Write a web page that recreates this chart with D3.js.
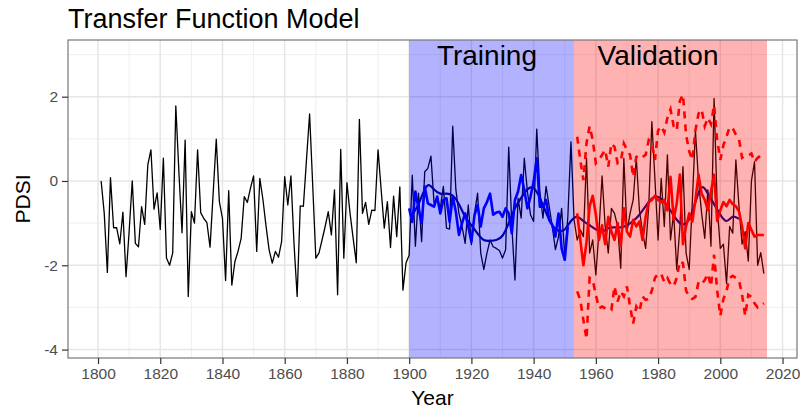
<!DOCTYPE html>
<html>
<head>
<meta charset="utf-8">
<script src="https://cdn.jsdelivr.net/npm/d3@7"></script>
<style>
  body { margin: 0; background: #fff; }
  svg { display: block; font-family: "Liberation Sans", Arial, sans-serif; }
</style>
</head>
<body>
<svg id="chart" width="800" height="410"></svg>
<script>
// Observed PDSI, one value per year starting in 1801
const obsStart = 1801;
const observed = [
  0.0, -0.77, -2.17, 0.08, -1.11, -1.11, -1.49, -0.74, -2.27, -1.2,          // 1801-1810
  0.0, -1.48, -1.56, -0.61, -1.03, 0.38, 0.74, -0.67, -0.28, -1.15,          // 1811-1820
  0.54, -1.83, -2.0, -1.71, 1.78, 0.2, -1.23, 0.97, -2.74, -0.73,            // 1821-1830
  -1.0, 0.74, -0.75, -0.89, -0.99, -1.57, -0.3, 0.99, -0.49, -0.89,          // 1831-1840
  -2.36, -0.23, -2.47, -1.91, -1.67, -1.36, -0.37, -0.51, -0.17, 0.12,       // 1841-1850
  -1.67, 0.06, -0.44, -1.07, -1.64, -1.95, -1.67, -1.81, -1.44, 0.1,         // 1851-1860
  -0.57, 0.12, -1.5, -2.74, -0.59, -0.6, 0.5, 1.59, -0.1, -1.83,             // 1861-1870
  -1.71, -1.4, -1.08, -0.73, -1.28, -0.21, -2.7, 0.75, -1.83, -0.04,         // 1871-1880
  -0.77, -1.36, -1.94, 1.46, -0.77, -0.51, -1.03, -0.69, -0.7, 0.74,         // 1881-1890
  -0.21, -1.12, -0.49, -1.58, -0.36, -1.32, -0.14, -2.59, -1.94, -1.76,      // 1891-1900
  0.14, -1.55, -0.29, -1.44, 0.22, 0.3, 0.59, -0.53, -0.39, -0.65,           // 1901-1910
  -0.13, -1.12, -1.14, 1.3, -0.2, -0.77, -1.08, -1.48, -0.57, -1.51,         // 1911-1920
  -0.77, -0.29, -1.71, -2.1, -1.71, -1.4, -1.56, -1.6, -1.65, -1.83,         // 1921-1930
  -1.63, 0.8, -1.08, -2.35, -0.41, -0.88, 0.54, -0.25, -0.8, -0.96,          // 1931-1940
  1.23, -0.25, -0.88, -0.13, -0.6, -1.08, -1.63, -1.32, -0.65, -1.79,        // 1941-1950
  -0.85, 0.93, -0.92, -1.4, -1.16, -1.32, 0.54, -1.71, -1.4, -2.23,          // 1951-1960
  -1.2, 0.12, -1.08, -1.71, -0.65, -0.77, -1.08, -2.07, 0.54, -1.2,          // 1961-1970
  -0.77, -0.45, 0.54, -0.69, -1.2, -1.6, -0.6, 1.41, 0.03, -1.4,             // 1971-1980
  0.06, -1.08, 0.62, -1.4, -0.77, -2.1, -1.1, 0.34, -1.71, -2.1,             // 1981-1990
  -0.5, 1.2, 0.0, -0.77, -1.36, -0.21, -1.55, 1.96, -0.6, -1.6,              // 1991-2000
  -1.5, -2.43, -1.08, -1.24, 0.5, -0.6, -1.5, -1.2, -1.9, 0.0,               // 2001-2010
  0.46, -2.0, -1.7, -2.2                                                      // 2011-2014
];

// Fitted values over the training period, starting in 1900
const trainStart = 1900;
const trainFit = [
  -0.65, -0.97, -0.25, -0.65, -1.0, -0.13, -0.53, -0.57, -0.61, -0.37,
  -0.77, -0.45, -0.41, -0.97, -0.37, -0.73, -1.28, -1.0, -0.77, -1.08,
  -1.44, -0.81, -0.57, -1.08, -0.65, -0.5, -0.3, -0.8, -0.75, -0.73,
  -0.85, -0.65, -0.77, -1.24, -0.45, -0.25, 0.14, -0.21, -0.65, -0.37,
  -0.02, 0.54, -0.61, -0.61, -0.45, -0.92, -1.04, -1.32, -0.77, -1.6,
  -1.87, -1.08
];

// Predictions over the validation period, with upper and lower bounds, starting in 1954
const validStart = 1954;
const validPred = [
  -0.77, -1.4, -2.0, -1.45, -0.6, -0.35, -0.8, -1.4, -1.05, -1.5,
  -0.85, -1.2, -1.4, -1.0, -1.55, -0.65, -1.2, -1.32, -0.92, -1.08,
  -0.96, -1.4, -0.85, -0.5, -0.45, -0.35, -0.45, -0.5, -0.45, -0.7,
  0.1, -0.92, -0.53, 0.15, -1.5, -1.08, -0.77, -0.96, -0.45, 0.15,
  -0.3, -0.45, -0.69, -0.25, 0.15, -0.95, -0.7, -0.5, -0.6, -0.45,
  -0.55, -0.6, -0.72, -1.08, -1.6, -1.0, -1.16, -1.32, -1.28, -1.28,
  -1.28
];
const validUpper = [
  1.05, 0.5, 0.02, 0.9, 1.3, 0.97, 0.42, 0.5, 0.62, 0.74,
  0.34, 0.89, 0.81, 0.42, 0.46, 0.89, 0.74, 0.62, 0.1, 0.57,
  0.62, 0.57, 0.62, 0.97, 0.9, 0.5, 1.2, 1.3, 1.15, 1.5,
  1.7, 1.3, 1.2, 1.9, 2.05, 1.1, 0.7, 0.5, 1.2, 1.6,
  1.7, 1.3, 1.5, 1.35, 1.8, 0.97, 0.5, 0.85, 1.05, 1.28,
  1.25, 1.1, 1.0, 0.55, 0.6, 0.6, 0.65, 0.45, 0.55, 0.6,
  0.65
];
const validLower = [
  -2.62, -2.82, -3.3, -3.75, -2.3, -2.35, -2.7, -3.02, -2.98, -3.02,
  -3.06, -3.06, -2.5, -2.86, -2.62, -2.74, -2.5, -2.98, -3.38, -2.98,
  -3.1, -2.74, -2.82, -2.8, -2.6, -2.3, -2.2, -2.2, -2.4, -2.3,
  -2.45, -2.5, -2.3, -1.9, -1.95, -2.6, -2.75, -2.8, -2.75, -2.4,
  -2.45, -2.35, -2.2, -2.5, -1.75, -2.6, -3.2, -2.8, -2.6, -2.3,
  -2.25, -2.3, -2.35, -2.7, -3.2, -2.7, -2.75, -2.9, -3.0, -2.95,
  -2.9
];

// Smoothed trend of the observed series
const smoothYears = [1901, 1903, 1905, 1906.5, 1908, 1910, 1912, 1914, 1916, 1918, 1920, 1922, 1924, 1926,
  1928, 1930, 1932, 1934, 1936, 1938, 1940, 1942, 1944, 1946, 1948, 1950, 1952, 1954, 1956, 1958,
  1960, 1962, 1964, 1966, 1968, 1970, 1972, 1974, 1976, 1978, 1980, 1982, 1984, 1986, 1988, 1990,
  1992, 1994, 1996, 1998, 2000, 2002, 2004, 2006];
const smoothVals = [-0.8, -0.55, -0.2, -0.1, -0.2, -0.3, -0.3, -0.35, -0.55, -0.85, -1.05, -1.25, -1.4, -1.42,
  -1.4, -1.3, -1.0, -0.65, -0.4, -0.2, -0.17, -0.4, -0.75, -1.05, -1.18, -1.15, -0.95, -0.85, -0.95, -1.05,
  -1.15, -1.2, -1.12, -1.1, -1.1, -1.05, -0.95, -0.8, -0.6, -0.42, -0.38, -0.5, -0.7, -0.92, -1.03, -0.9,
  -0.5, -0.15, -0.3, -0.55, -0.8, -0.95, -0.85, -0.9];

// Shaded periods
const periods = [
  { name: "Training", from: 1900, to: 1953, fill: "#0000ff", labelYear: 1925 },
  { name: "Validation", from: 1953, to: 2015, fill: "#ff0000", labelYear: 1980 }
];

const xTicks = d3.range(1800, 2021, 20);
const xMinor = d3.range(1810, 2021, 20);
const yTicks = [-4, -2, 0, 2];
const yMinor = [-3, -1, 1, 3];

const svg = d3.select("#chart");
const panel = { left: 68, right: 797, top: 40, bottom: 358 };

const x = d3.scaleLinear().domain([1790.35, 2024.65]).range([panel.left, panel.right]);
const y = d3.scaleLinear().domain([-4.2, 3.345]).range([panel.bottom, panel.top]);

const series = (start, vals) => vals.map((v, i) => ({ yr: start + i, v }));
const line = d3.line().x(d => x(d.yr)).y(d => y(d.v));

svg.append("defs").append("clipPath").attr("id", "clip")
  .append("rect").attr("x", panel.left).attr("y", panel.top)
  .attr("width", panel.right - panel.left).attr("height", panel.bottom - panel.top);

// Grid
const grid = svg.append("g");
grid.selectAll(".ymin").data(yMinor).join("line")
  .attr("x1", panel.left).attr("x2", panel.right)
  .attr("y1", d => y(d)).attr("y2", d => y(d))
  .attr("stroke", "#ebebeb").attr("stroke-width", 0.8);
grid.selectAll(".xmin").data(xMinor).join("line")
  .attr("y1", panel.top).attr("y2", panel.bottom)
  .attr("x1", d => x(d)).attr("x2", d => x(d))
  .attr("stroke", "#ebebeb").attr("stroke-width", 0.8);
grid.selectAll(".ymaj").data(yTicks).join("line")
  .attr("x1", panel.left).attr("x2", panel.right)
  .attr("y1", d => y(d)).attr("y2", d => y(d))
  .attr("stroke", "#e6e6e6").attr("stroke-width", 1.5);
grid.selectAll(".xmaj").data(xTicks).join("line")
  .attr("y1", panel.top).attr("y2", panel.bottom)
  .attr("x1", d => x(d)).attr("x2", d => x(d))
  .attr("stroke", "#e6e6e6").attr("stroke-width", 1.5);

const plot = svg.append("g").attr("clip-path", "url(#clip)");

// Observed series and its smooth trend sit beneath the shading
plot.append("path").datum(series(obsStart, observed))
  .attr("d", line).attr("fill", "none").attr("stroke", "#000").attr("stroke-width", 1.3)
  .attr("stroke-linejoin", "round");

plot.append("path").datum(smoothYears.map((yr, i) => ({ yr, v: smoothVals[i] })))
  .attr("d", line.curve(d3.curveNatural)).attr("fill", "none")
  .attr("stroke", "#00008b").attr("stroke-width", 2.2);
line.curve(d3.curveLinear);

plot.selectAll(".period").data(periods).join("rect")
  .attr("x", d => x(d.from)).attr("width", d => x(d.to) - x(d.from))
  .attr("y", panel.top).attr("height", panel.bottom - panel.top)
  .attr("fill", d => d.fill).attr("fill-opacity", 0.3);

// Model output
plot.append("path").datum(series(trainStart, trainFit))
  .attr("d", line).attr("fill", "none").attr("stroke", "#0000ff").attr("stroke-width", 2.6)
  .attr("stroke-linejoin", "round");

plot.append("path").datum(series(validStart, validPred))
  .attr("d", line).attr("fill", "none").attr("stroke", "#ff0000").attr("stroke-width", 2.6)
  .attr("stroke-linejoin", "round");

[validUpper, validLower].forEach(vals => {
  plot.append("path").datum(series(validStart, vals))
    .attr("d", line).attr("fill", "none").attr("stroke", "#ff0000").attr("stroke-width", 2.6)
    .attr("stroke-dasharray", "7,6");
});

// Period labels
svg.selectAll(".plabel").data(periods).join("text")
  .attr("x", d => x(d.labelYear)).attr("y", 65)
  .attr("text-anchor", "middle").attr("font-size", 28).attr("fill", "#000")
  .text(d => d.name);

// Panel border
svg.append("rect").attr("x", panel.left).attr("y", panel.top)
  .attr("width", panel.right - panel.left).attr("height", panel.bottom - panel.top)
  .attr("fill", "none").attr("stroke", "#777").attr("stroke-width", 1.2);

// Axes (plain hyphen for negative labels)
const fmt = d => String(d);
const xAxis = svg.append("g").attr("transform", `translate(0,${panel.bottom})`)
  .call(d3.axisBottom(x).tickValues(xTicks).tickFormat(fmt).tickSize(6).tickPadding(4));
const yAxis = svg.append("g").attr("transform", `translate(${panel.left},0)`)
  .call(d3.axisLeft(y).tickValues(yTicks).tickFormat(fmt).tickSize(6).tickPadding(4));
[xAxis, yAxis].forEach(a => {
  a.select(".domain").remove();
  a.selectAll(".tick line").attr("stroke", "#333").attr("stroke-width", 1.2);
  a.selectAll(".tick text").attr("fill", "#4d4d4d").attr("font-size", 15.5)
    .attr("font-family", "Liberation Sans, Arial, sans-serif");
});

// Titles
svg.append("text").attr("x", panel.left).attr("y", 28)
  .attr("font-size", 27).attr("fill", "#000").text("Transfer Function Model");
svg.append("text").attr("x", (panel.left + panel.right) / 2).attr("y", 405)
  .attr("text-anchor", "middle").attr("font-size", 21).attr("fill", "#000").text("Year");
svg.append("text").attr("transform", `translate(30,${(panel.top + panel.bottom) / 2}) rotate(-90)`)
  .attr("text-anchor", "middle").attr("font-size", 21).attr("fill", "#000").text("PDSI");
</script>
</body>
</html>
